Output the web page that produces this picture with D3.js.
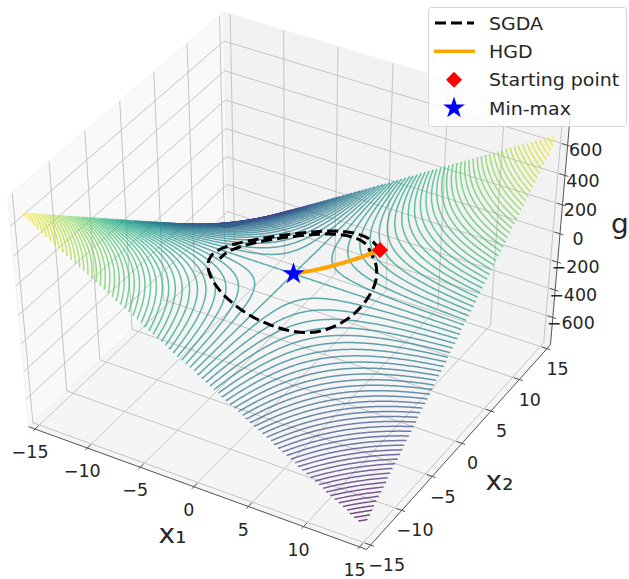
<!DOCTYPE html>
<html>
<head>
<meta charset="utf-8">
<script src="https://cdn.jsdelivr.net/npm/d3@7"></script>
<style>
  body { margin: 0; background: #fff; }
  svg { display: block; font-family: 'DejaVu Sans', sans-serif; fill: #262626; }
</style>
</head>
<body>
<div class="container"></div>
<script>
// surface heights, on the tick grid
const gridX1 = [-15, -10, -5, 0, 5, 10, 15];
const gridX2 = [-15, -10, -5, 0, 5, 10, 15];
const gValues = [
  [675, 450, 225, 0, -225, -450, -675],
  [450, 300, 150, 0, -150, -300, -450],
  [225, 150, 75, 0, -75, -150, -225],
  [0, 0, 0, 0, 0, 0, 0],
  [-225, -150, -75, 0, 75, 150, 225],
  [-450, -300, -150, 0, 150, 300, 450],
  [-675, -450, -225, 0, 225, 450, 675]
];
const levelMin = -656;
const levelMax = 656;
const levelStep = 16;

const sgdaX1 = [5.0, 3.52, 1.81, 0, -1.8, -3.46, -4.87, -5.94, -6.6, -6.8, -6.54, -5.84, -4.74, -3.34, -1.72, 0, 1.71, 3.35, 4.8, 5.85, 6.5, 6.7, 6.44, 5.64, 4.49, 3.25, 1.68, 0, -1.66, -3.18, -4.45, -5.39, -5.9, -6.08, -5.84];
const sgdaX2 = [5.0, 6.1, 6.77, 6.98, 6.71, 5.99, 4.87, 3.43, 1.77, 0, -1.75, -3.37, -4.74, -5.79, -6.42, -6.62, -6.37, -5.79, -4.8, -3.38, -1.74, 0, 1.73, 3.25, 4.49, 5.63, 6.28, 6.47, 6.18, 5.5, 4.45, 3.11, 1.58, 0, -1.57];
const hgdX1 = [5, 4, 3, 2, 1, 0];
const hgdX2 = [5, 4, 3, 2, 1, 0];
const startPoint = [5, 5];
const minMaxPoint = [0, 0];

const x1Ticks = [-15, -10, -5, 0, 5, 10, 15];
const x2Ticks = [-15, -10, -5, 0, 5, 10, 15];
const zTicks = [-600, -400, -200, 0, 200, 400, 600];
const legendLabels = ['SGDA', 'HGD', 'Starting point', 'Min-max'];

const w = 629;
const h = 579;

const svg = d3
  .select('.container')
  .append('svg')
  .attr('width', w)
  .attr('height', h);

// matplotlib style camera, the source picture is squashed a bit in y
const elev = (42.5 * Math.PI) / 180;
const azim = (-59.8 * Math.PI) / 180;
const dist = 10;
const boxSide = 1.143;
const boxHeight = 1.065;

const xNorm = d3.scaleLinear().domain([-15, 15]).range([-boxSide / 2, boxSide / 2]);
const yNorm = d3.scaleLinear().domain([-15, 15]).range([-boxSide / 2, boxSide / 2]);
const zNorm = d3.scaleLinear().domain([-771.8, 758.9]).range([-boxHeight / 2, boxHeight / 2]);

const back = [
  Math.cos(elev) * Math.cos(azim),
  Math.cos(elev) * Math.sin(azim),
  Math.sin(elev)
];
const right = [-Math.sin(azim), Math.cos(azim), 0];
const up = [
  -Math.cos(azim) * Math.sin(elev),
  -Math.sin(azim) * Math.sin(elev),
  Math.cos(elev)
];
const dot = (a, b) => a[0] * b[0] + a[1] * b[1] + a[2] * b[2];

const screenX = d3.scaleLinear().domain([-0.1, 0.1]).range([293.5 - 332.5, 293.5 + 332.5]);
const screenY = d3.scaleLinear().domain([-0.1, 0.1]).range([274.8 + 280, 274.8 - 280]);

function project(x1, x2, z) {
  const p = [xNorm(x1), yNorm(x2), zNorm(z)];
  const depth = dist - dot(p, back);
  return [screenX(dot(p, right) / depth), screenY(dot(p, up) / depth)];
}

const line3d = d3.line();

// pane limits sit a little past the axis limits
const xa = -15.625;
const xb = 15.625;
const za = -803.7;
const zb = 790.8;

const panes = [
  { pts: [[xa, xa, za], [xa, xb, za], [xa, xb, zb], [xa, xa, zb]], fill: '#f9f9f9' },
  { pts: [[xa, xb, za], [xb, xb, za], [xb, xb, zb], [xa, xb, zb]], fill: '#f2f2f2' },
  { pts: [[xa, xa, za], [xb, xa, za], [xb, xb, za], [xa, xb, za]], fill: '#f5f5f5' }
];

svg
  .append('g')
  .selectAll('path')
  .data(panes)
  .enter()
  .append('path')
  .attr('d', (d) => line3d(d.pts.map((p) => project(...p))) + 'Z')
  .style('fill', (d) => d.fill)
  .style('stroke', '#f0f0f0')
  .style('stroke-width', 0.8);

// grid lines on the three panes
const gridLines = [];
x1Ticks.forEach((t) => gridLines.push([[t, xa, za], [t, xb, za], [t, xb, zb]]));
x2Ticks.forEach((t) => gridLines.push([[xb, t, za], [xa, t, za], [xa, t, zb]]));
zTicks.forEach((t) => gridLines.push([[xa, xa, t], [xa, xb, t], [xb, xb, t]]));

svg
  .append('g')
  .selectAll('path')
  .data(gridLines)
  .enter()
  .append('path')
  .attr('d', (d) => line3d(d.map((p) => project(...p))))
  .style('fill', 'none')
  .style('stroke', '#c4c4c4')
  .style('stroke-width', 1);

// axis lines
const axisLines = [
  [[xa, xa, za], [xb, xa, za]],
  [[xb, xa, za], [xb, xb, za]],
  [[xb, xb, za], [xb, xb, zb]]
];
svg
  .append('g')
  .selectAll('path')
  .data(axisLines)
  .enter()
  .append('path')
  .attr('d', (d) => line3d(d.map((p) => project(...p))))
  .style('fill', 'none')
  .style('stroke', '#555')
  .style('stroke-width', 1);

// tick marks
const tickMarks = [];
x1Ticks.forEach((t) => tickMarks.push([[t, xa - 0.3, za], [t, xa + 0.5, za]]));
x2Ticks.forEach((t) => tickMarks.push([[xb - 0.5, t, za], [xb + 0.3, t, za]]));
zTicks.forEach((t) => tickMarks.push([[xb - 0.5, xb, t], [xb + 0.3, xb, t]]));
svg
  .append('g')
  .selectAll('path')
  .data(tickMarks)
  .enter()
  .append('path')
  .attr('d', (d) => line3d(d.map((p) => project(...p))))
  .style('fill', 'none')
  .style('stroke', '#555')
  .style('stroke-width', 1);

const tickText = (v) => String(v).replace('-', '\u2212');

const placed = (x, y) => `translate(${x},${y}) scale(1,0.97)`;

svg
  .append('g')
  .selectAll('text')
  .data(x1Ticks)
  .enter()
  .append('text')
  .attr('transform', (d) => {
    const p = project(d, xa, za);
    return placed(p[0] - 5, p[1] + 23);
  })
  .attr('dy', '0.36em')
  .attr('text-anchor', 'middle')
  .style('font-size', '17.5px')
  .text(tickText);

svg
  .append('g')
  .selectAll('text')
  .data(x2Ticks)
  .enter()
  .append('text')
  .attr('transform', (d) => {
    const p = project(xb, d, za);
    return placed(p[0] + 10.5 + Math.max(0, -d - 5) * 0.55, p[1] + 20);
  })
  .attr('dy', '0.36em')
  .attr('text-anchor', 'middle')
  .style('font-size', '17.5px')
  .text(tickText);

svg
  .append('g')
  .selectAll('text')
  .data(zTicks)
  .enter()
  .append('text')
  .attr('transform', (d) => {
    const p = project(xb, xb, d);
    return placed(p[0] + 18, p[1] + 5);
  })
  .attr('dy', '0.36em')
  .attr('text-anchor', 'middle')
  .style('font-size', '17.5px')
  .text(tickText);

svg.append('text').attr('transform', placed(172.5, 543)).attr('text-anchor', 'middle').style('font-size', '28px').text('x\u2081');
svg.append('text').attr('transform', placed(499.5, 490)).attr('text-anchor', 'middle').style('font-size', '28px').text('x\u2082');
svg.append('text').attr('transform', placed(620, 233)).attr('text-anchor', 'middle').style('font-size', '28px').text('g');

// bilinear lookup in the grid above
const gAt = (x1, x2) => {
  const i = Math.min(d3.bisectRight(gridX1, x1) - 1, gridX1.length - 2);
  const j = Math.min(d3.bisectRight(gridX2, x2) - 1, gridX2.length - 2);
  const tx = (x1 - gridX1[i]) / (gridX1[i + 1] - gridX1[i]);
  const ty = (x2 - gridX2[j]) / (gridX2[j + 1] - gridX2[j]);
  const a = d3.interpolateNumber(gValues[j][i], gValues[j][i + 1])(tx);
  const b = d3.interpolateNumber(gValues[j + 1][i], gValues[j + 1][i + 1])(tx);
  return d3.interpolateNumber(a, b)(ty);
};

const n = 241;
const cellX1 = d3.scaleLinear().domain([0.5, n - 0.5]).range([-15, 15]);
const cellX2 = d3.scaleLinear().domain([0.5, n - 0.5]).range([-15, 15]);
const values = new Array(n * n);
for (let j = 0; j < n; j++) {
  for (let i = 0; i < n; i++) {
    values[j * n + i] = gAt(cellX1(i + 0.5), cellX2(j + 0.5));
  }
}

const levels = d3.range(levelMin, levelMax + 1, levelStep);
const colour = d3.scaleSequential(d3.interpolateViridis).domain([levelMin, levelMax]);
const contourGen = d3.contours().size([n, n]).thresholds(levels);

const onBorder = (p) => p[0] <= 0 || p[0] >= n || p[1] <= 0 || p[1] >= n;
const clampCell = (v) => Math.max(0.5, Math.min(n - 0.5, v));

// d3.contours closes rings round the grid, only keep the parts inside it
const levelRuns = (contour) => {
  const runs = [];
  contour.coordinates.forEach((poly) => {
    poly.forEach((ring) => {
      let run = [];
      for (let k = 0; k < ring.length - 1; k++) {
        const a = ring[k];
        const b = ring[k + 1];
        if (onBorder(a) && onBorder(b)) {
          if (run.length) runs.push(run);
          run = [];
        } else {
          if (!run.length) run.push(a);
          run.push(b);
        }
      }
      if (run.length) runs.push(run);
    });
  });
  return runs;
};

const contourGroup = svg.append('g');
contourGen(values).forEach((contour) => {
  const level = contour.value;
  const d = levelRuns(contour)
    .map((run) =>
      line3d(
        run.map((p) =>
          project(cellX1(clampCell(p[0])), cellX2(clampCell(p[1])), level)
        )
      )
    )
    .join('');
  contourGroup
    .append('path')
    .attr('d', d)
    .style('fill', 'none')
    .style('stroke', colour(level))
    .style('stroke-opacity', 0.72)
    .style('stroke-width', 1.5);
});

const onSurface = (xs, ys) => xs.map((v, i) => project(v, ys[i], gAt(v, ys[i])));

svg
  .append('path')
  .attr('d', d3.line().curve(d3.curveCatmullRom)(onSurface(sgdaX1, sgdaX2)))
  .style('fill', 'none')
  .style('stroke', '#000')
  .style('stroke-width', 3)
  .style('stroke-dasharray', '11,5');

svg
  .append('path')
  .attr('d', d3.line().curve(d3.curveCatmullRom)(onSurface(hgdX1, hgdX2)))
  .style('fill', 'none')
  .style('stroke', 'orange')
  .style('stroke-width', 4);

const diamond = d3.symbol().type(d3.symbolSquare).size(128);
const star = d3.symbol().type(d3.symbolStar).size(150);

const startPos = project(startPoint[0], startPoint[1], gAt(startPoint[0], startPoint[1]));
const minPos = project(minMaxPoint[0], minMaxPoint[1], gAt(minMaxPoint[0], minMaxPoint[1]));

svg
  .append('path')
  .attr('d', diamond())
  .attr('transform', `translate(${startPos}) rotate(45)`)
  .style('fill', 'red');
svg
  .append('path')
  .attr('d', star())
  .attr('transform', `translate(${minPos})`)
  .style('fill', 'blue');

// legend
const legend = svg.append('g');
legend
  .append('rect')
  .attr('x', 428.5)
  .attr('y', 7.5)
  .attr('width', 198)
  .attr('height', 119)
  .attr('rx', 3)
  .style('fill', '#fff')
  .style('fill-opacity', 0.8)
  .style('stroke', '#ccc')
  .style('stroke-opacity', 0.8);

const legendY = d3.scalePoint().domain(legendLabels).range([23, 108]);

legend
  .selectAll('text')
  .data(legendLabels)
  .enter()
  .append('text')
  .attr('transform', (d) => placed(489, legendY(d)))
  .attr('dy', '0.36em')
  .style('font-size', '19px')
  .text((d) => d);

legend
  .append('line')
  .attr('x1', 435)
  .attr('x2', 474)
  .attr('y1', legendY('SGDA'))
  .attr('y2', legendY('SGDA'))
  .style('stroke', '#000')
  .style('stroke-width', 3)
  .style('stroke-dasharray', '11,5');
legend
  .append('line')
  .attr('x1', 434)
  .attr('x2', 475)
  .attr('y1', legendY('HGD'))
  .attr('y2', legendY('HGD'))
  .style('stroke', 'orange')
  .style('stroke-width', 3.5);
legend
  .append('path')
  .attr('d', diamond())
  .attr('transform', `translate(454,${legendY('Starting point')}) rotate(45)`)
  .style('fill', 'red');
legend
  .append('path')
  .attr('d', star())
  .attr('transform', `translate(454,${legendY('Min-max')})`)
  .style('fill', 'blue');
</script>
</body>
</html>
